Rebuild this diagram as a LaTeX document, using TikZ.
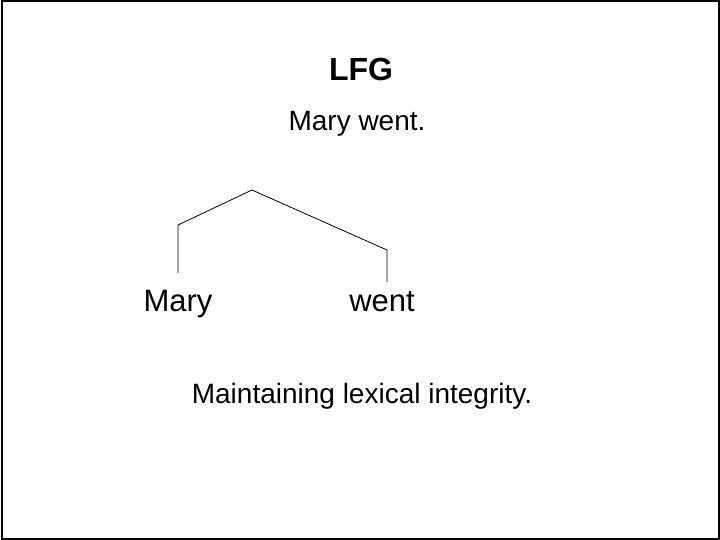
\documentclass[tikz,border=0pt]{standalone}
\usepackage{fontspec}
\setmainfont{Liberation Sans}
\begin{document}
\begin{tikzpicture}[x=1pt,y=-1pt,
  txt/.style={inner sep=0pt,anchor=base},
  br/.style={line width=0.8pt}]
\useasboundingbox (0,0) rectangle (720,540);
\fill[white] (0,0) rectangle (720,540);
\draw[line width=2pt] (1.5,1.5) rectangle (718.5,538.5);
\node[txt,font=\fontsize{32}{36}\selectfont\bfseries] (t) at (361,81) {LFG};
\node[txt,font=\fontsize{28}{32}\selectfont] (s) at (357,131) {Mary went.};
\node[txt,font=\fontsize{31}{36}\selectfont] (m) at (178,311) {Mary};
\node[txt,font=\fontsize{31}{36}\selectfont] (w) at (382,311) {went};
\node[txt,font=\fontsize{28}{32}\selectfont] (c) at (362,403) {Maintaining lexical integrity.};
\coordinate (top) at (252,190);
\coordinate (l1) at (178,225);
\coordinate (l2) at (178,273);
\coordinate (r1) at (387,250);
\coordinate (r2) at (387,282);
\draw[br] (l2) -- (l1) -- (top) -- (r1) -- (r2);
\end{tikzpicture}
\end{document}
